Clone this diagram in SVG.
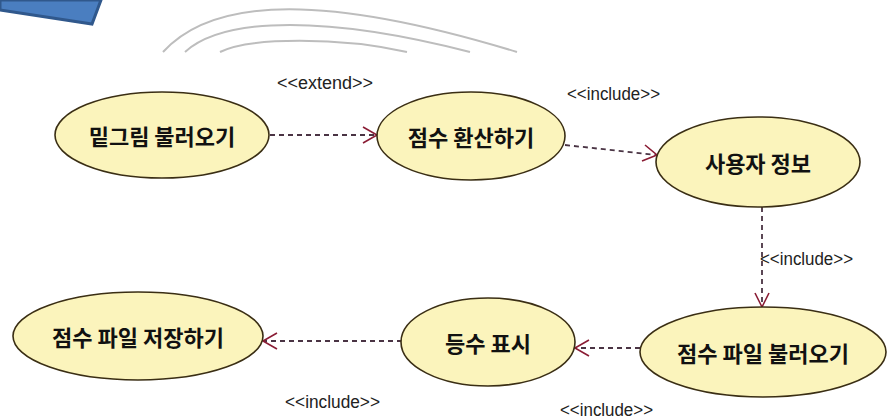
<svg xmlns="http://www.w3.org/2000/svg" width="888" height="420" viewBox="0 0 888 420">
<style>
.uc ellipse{fill:#fbf4bc;stroke:#3a2e14;stroke-width:1.6}
.uc text{font-family:"Noto Sans CJK KR","Noto Sans",sans-serif;font-weight:700;font-size:22px;fill:#111;text-anchor:middle;dominant-baseline:central}
.dep{fill:none;stroke:#4a3444;stroke-width:1.8;stroke-dasharray:5 4}
.head{fill:none;stroke:#8a1c34;stroke-width:1.6}
.lbl{font-family:"Liberation Sans",Arial,sans-serif;font-size:18px;fill:#222}
.arc{fill:none;stroke:#bdbdbd;stroke-width:2}
</style>
<rect width="888" height="420" fill="#ffffff"/>
<g id="decor">
<polygon points="0,0 101,0 92,24 0,10" fill="#4a7ec0" stroke="#30588c" stroke-width="3"/>
<path class="arc" d="M163,52 C215,-5 330,-5 517,52"/>
<path class="arc" d="M185,52 C225,16 330,16 470,52"/>
<path class="arc" d="M220,52 C250,37 340,37 407,52"/>
</g>
<g id="connectors">
<g id="e1">
<line class="dep" x1="270" y1="135" x2="376" y2="135"/>
<polyline class="head" points="363,127 377,135 363,143"/>
<text class="lbl" x="277" y="89" textLength="96" lengthAdjust="spacingAndGlyphs">&lt;&lt;extend&gt;&gt;</text>
</g>
<g id="e2">
<line class="dep" x1="565" y1="145" x2="656" y2="155"/>
<polyline class="head" points="645,145 657,155 642,161"/>
<text class="lbl" x="567" y="100" textLength="93" lengthAdjust="spacingAndGlyphs">&lt;&lt;include&gt;&gt;</text>
</g>
<g id="e3">
<line class="dep" x1="762" y1="207" x2="762" y2="306"/>
<polyline class="head" points="755,293 762,307 769,293"/>
<text class="lbl" x="760" y="265" textLength="93" lengthAdjust="spacingAndGlyphs">&lt;&lt;include&gt;&gt;</text>
</g>
<g id="e4">
<line class="dep" x1="640" y1="348" x2="576" y2="348"/>
<polyline class="head" points="589,340 575,348 589,356"/>
<text class="lbl" x="560" y="416" textLength="93" lengthAdjust="spacingAndGlyphs">&lt;&lt;include&gt;&gt;</text>
</g>
<g id="e5">
<line class="dep" x1="402" y1="341" x2="264" y2="341"/>
<polyline class="head" points="277,333 263,341 277,349"/>
<text class="lbl" x="285" y="408" textLength="95" lengthAdjust="spacingAndGlyphs">&lt;&lt;include&gt;&gt;</text>
</g>
</g>
<g id="n1" class="uc"><ellipse cx="162" cy="135" rx="107" ry="43"/><text x="162" y="135">밑그림 불러오기</text></g>
<g id="n2" class="uc"><ellipse cx="471" cy="136" rx="94" ry="44"/><text x="471" y="136">점수 환산하기</text></g>
<g id="n3" class="uc"><ellipse cx="758" cy="162" rx="102" ry="45"/><text x="758" y="162">사용자 정보</text></g>
<g id="n4" class="uc"><ellipse cx="138" cy="336" rx="125" ry="44"/><text x="138" y="336">점수 파일 저장하기</text></g>
<g id="n5" class="uc"><ellipse cx="488" cy="342" rx="87" ry="44"/><text x="488" y="342">등수 표시</text></g>
<g id="n6" class="uc"><ellipse cx="763" cy="352" rx="123" ry="45"/><text x="763" y="352">점수 파일 불러오기</text></g>
</svg>
